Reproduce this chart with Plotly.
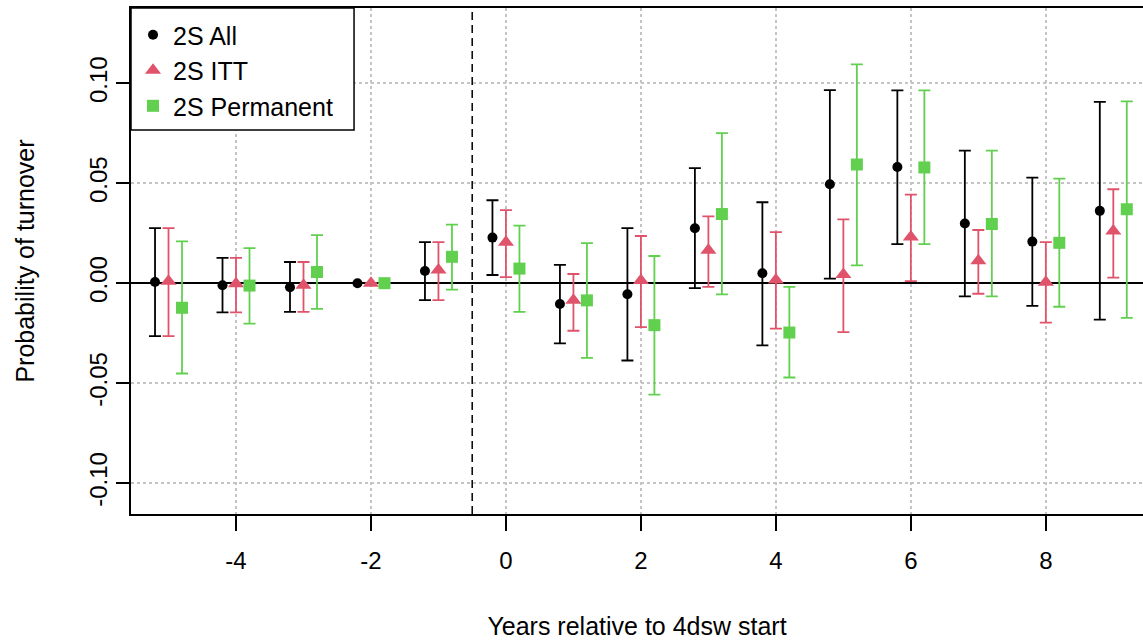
import plotly.graph_objects as go

# Event-study estimates of turnover probability by year relative to 4dsw start
years = [-5, -4, -3, -2, -1, 0, 1, 2, 3, 4, 5, 6, 7, 8, 9]

all_est = [0.0006, -0.0010, -0.0020, 0.0, 0.0061, 0.0228, -0.0104, -0.0055,
           0.0275, 0.0050, 0.0495, 0.0581, 0.0299, 0.0208, 0.0362]
all_lo = [-0.0265, -0.0146, -0.0144, None, -0.0085, 0.0041, -0.0301, -0.0387,
          -0.0025, -0.0311, 0.0023, 0.0195, -0.0066, -0.0114, -0.0182]
all_hi = [0.0276, 0.0127, 0.0106, None, 0.0205, 0.0415, 0.0092, 0.0276,
          0.0576, 0.0405, 0.0966, 0.0965, 0.0663, 0.0528, 0.0907]

itt_est = [0.0010, -0.0003, -0.0010, 0.0, 0.0066, 0.0205, -0.0086, 0.0013,
           0.0165, 0.0016, 0.0043, 0.0231, 0.0112, 0.0005, 0.0261]
itt_lo = [-0.0265, -0.0146, -0.0144, None, -0.0085, 0.0030, -0.0238, -0.0220,
          -0.0018, -0.0227, -0.0245, 0.0010, -0.0053, -0.0197, 0.0028]
itt_hi = [0.0276, 0.0127, 0.0106, None, 0.0205, 0.0366, 0.0046, 0.0236,
          0.0334, 0.0255, 0.0319, 0.0443, 0.0266, 0.0205, 0.0470]

perm_est = [-0.0123, -0.0012, 0.0056, 0.0, 0.0132, 0.0073, -0.0086, -0.0210,
            0.0346, -0.0247, 0.0594, 0.0579, 0.0296, 0.0202, 0.0370]
perm_lo = [-0.0452, -0.0202, -0.0129, None, -0.0032, -0.0144, -0.0374, -0.0558,
           -0.0056, -0.0472, 0.0089, 0.0195, -0.0066, -0.0118, -0.0174]
perm_hi = [0.0209, 0.0175, 0.0240, None, 0.0293, 0.0288, 0.0200, 0.0136,
           0.0751, -0.0018, 0.1095, 0.0965, 0.0663, 0.0523, 0.0910]

x_ticks = [-4, -2, 0, 2, 4, 6, 8]
x_tick_labels = ["-4", "-2", "0", "2", "4", "6", "8"]
y_ticks = [-0.10, -0.05, 0.00, 0.05, 0.10]
y_tick_labels = ["-0.10", "-0.05", "0.00", "0.05", "0.10"]

FONT = "Liberation Sans, Arial, Helvetica, sans-serif"
NAN = float("nan")


def err_parts(est, lo, hi):
    plus = [NAN if h is None else h - e for e, h in zip(est, hi)]
    minus = [NAN if l is None else e - l for e, l in zip(est, lo)]
    return plus, minus


series = [
    ("2S All", all_est, all_lo, all_hi, -0.2, "#000000", "circle", 10),
    ("2S ITT", itt_est, itt_lo, itt_hi, 0.0, "#DF536B", "triangle-up", 14),
    ("2S Permanent", perm_est, perm_lo, perm_hi, 0.2, "#61D04F", "square", 12),
]

fig = go.Figure()
for name, est, lo, hi, shift, color, symbol, size in series:
    plus, minus = err_parts(est, lo, hi)
    fig.add_trace(go.Scatter(
        x=[y + shift for y in years], y=est, name=name, mode="markers",
        marker=dict(color=color, symbol=symbol, size=size, line=dict(width=0)),
        error_y=dict(type="data", symmetric=False, array=plus, arrayminus=minus,
                     color=color, thickness=1.8, width=6),
    ))

# treatment onset
fig.add_shape(type="line", xref="x", x0=-0.5, x1=-0.5, yref="paper", y0=0, y1=1,
              line=dict(color="black", width=1.5, dash="8px,5px"), layer="between")
# legend frame
fig.add_shape(type="rect", xref="paper", yref="paper", x0=0, x1=0.2204,
              y0=0.7588, y1=1, fillcolor="white",
              line=dict(color="black", width=1.5), layer="above")

fig.update_layout(
    width=1143, height=640,
    margin=dict(l=131, r=0, t=8, b=122),
    paper_bgcolor="white", plot_bgcolor="white",
    font=dict(family=FONT, size=24, color="black"),
    showlegend=True,
    legend=dict(x=0.002, y=0.992, xanchor="left", yanchor="top",
                bgcolor="rgba(0,0,0,0)", borderwidth=0,
                font=dict(size=25)),
)
fig.update_xaxes(
    range=[-5.556, 9.44], tickvals=x_ticks, ticktext=x_tick_labels,
    ticks="outside", ticklen=15, tickwidth=1.5, tickcolor="black",
    ticklabelstandoff=9,
    showgrid=True, gridcolor="#c4c4c4", griddash="dot", gridwidth=1.5,
    zeroline=False, showline=True, linecolor="black", linewidth=1.5, mirror=True,
    title=dict(text="Years relative to 4dsw start", standoff=49,
               font=dict(size=25)),
)
fig.update_yaxes(
    range=[-0.1155, 0.1377], tickvals=y_ticks, ticktext=y_tick_labels,
    tickangle=-90,
    ticks="outside", ticklen=13, tickwidth=1.5, tickcolor="black",
    showgrid=True, gridcolor="#c4c4c4", griddash="dot", gridwidth=1.5,
    zeroline=True, zerolinecolor="black", zerolinewidth=1.5,
    showline=True, linecolor="black", linewidth=1.5, mirror=False,
    title=dict(text="Probability of turnover", standoff=43,
               font=dict(size=25)),
)

fig.write_html("out.html")
